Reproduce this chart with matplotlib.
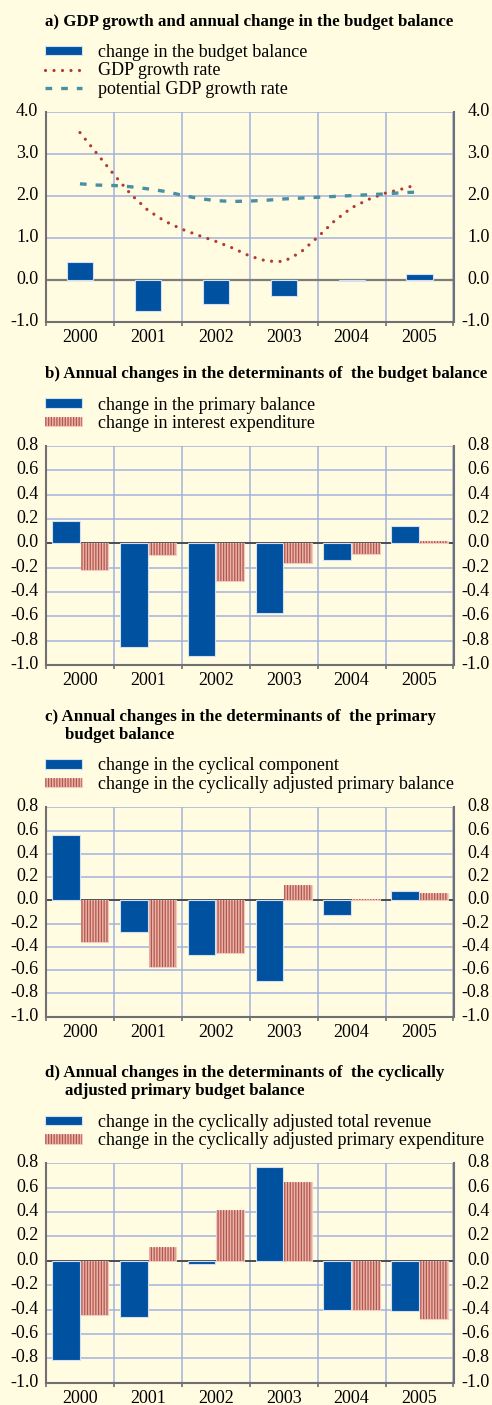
import numpy as np
import matplotlib.pyplot as plt
import matplotlib.transforms as mtransforms
from matplotlib.patches import Patch
from matplotlib.lines import Line2D

plt.rcParams['font.family'] = ['Liberation Serif', 'DejaVu Serif']
plt.rcParams['axes.unicode_minus'] = False
plt.rcParams['hatch.linewidth'] = 0.9

# colours
BG = '#FFFCE1'
BLUE = '#0052A0'
BLUE_EDGE = '#D4E0F2'
PINK = '#E8B4AA'
PINK_EDGE = '#F2CCC4'
STRIPE = '#B5564C'
GRID = '#A4B2DE'
SPINE = '#707070'
ZERO = '#3A3A3A'
RED = '#B23A32'
TEAL = '#4A8FA3'

years = ['2000', '2001', '2002', '2003', '2004', '2005']

# a) GDP growth and change in the budget balance
budget_change = [0.42, -0.73, -0.57, -0.37, -0.03, 0.14]
growth_t = [0, 0.25, 0.5, 0.75, 1, 1.25, 1.5, 1.75, 2, 2.25, 2.5,
            2.75, 3, 3.25, 3.5, 3.75, 4, 4.25, 4.5, 4.75, 4.92]
gdp_growth = [3.51, 3.01, 2.51, 2.04, 1.66, 1.40, 1.21, 1.06, 0.92, 0.76, 0.57,
              0.45, 0.44, 0.66, 1.02, 1.41, 1.72, 1.92, 2.07, 2.17, 2.25]
potential_growth = [2.29, 2.26, 2.25, 2.22, 2.17, 2.11, 2.02, 1.94, 1.89, 1.87, 1.88,
                    1.90, 1.93, 1.95, 1.97, 1.99, 2.01, 2.03, 2.05, 2.08, 2.09]

# b) determinants of the budget balance
primary_change = [0.18, -0.855, -0.93, -0.57, -0.14, 0.14]
interest_change = [-0.22, -0.10, -0.31, -0.16, -0.085, 0.02]

# c) determinants of the primary balance
cyclical_change = [0.56, -0.27, -0.47, -0.69, -0.13, 0.077]
capb_change = [-0.36, -0.57, -0.45, 0.135, 0.01, 0.066]

# d) determinants of the cyclically adjusted primary balance
revenue_change = [-0.81, -0.465, -0.03, 0.77, -0.40, -0.41]
expenditure_change = [-0.445, 0.115, 0.42, 0.65, -0.40, -0.48]

ticks_a = [-1.0, 0.0, 1.0, 2.0, 3.0, 4.0]
ticks_b = [-1.0, -0.8, -0.6, -0.4, -0.2, 0.0, 0.2, 0.4, 0.6, 0.8]

W, H = 492, 1405
fig = plt.figure(figsize=(W / 100, H / 100), dpi=100, facecolor=BG)

DOTTED = (0, (0.01, 2.65))
DASHED = (0, (2.0, 2.7))
# y labels sit a little above their gridlines
LIFT = mtransforms.ScaledTranslation(0, 2.5 / 100, fig.dpi_scale_trans)


def rect(left, top, right, bottom):
    return [left / W, 1 - bottom / H, (right - left) / W, (bottom - top) / H]


def make_axes(top, bottom, yticks, zero_color=ZERO, zero_lw=1.2):
    ax = fig.add_axes(rect(46, top, 453.5, bottom))
    ax.set_facecolor('none')
    ax.set_xlim(-0.5, 5.5)
    ax.set_ylim(yticks[0], yticks[-1])
    ax.set_xticks(range(6), years)
    ax.set_xticks(np.arange(-0.5, 6), minor=True)
    ax.set_yticks(yticks, [f'{v:.1f}' for v in yticks])
    ax.tick_params(axis='x', which='major', length=0, pad=5, labelsize=13)
    ax.tick_params(axis='x', which='minor', length=3, width=1.2, color=SPINE)
    ax.tick_params(axis='y', length=0, pad=5.5, labelsize=13)
    ax.grid(axis='x', which='minor', color=GRID, lw=1.1)
    ax.grid(axis='y', which='major', color=GRID, lw=1.1)
    ax.set_axisbelow(True)
    ax.spines['top'].set_visible(False)
    for side in ('left', 'right', 'bottom'):
        ax.spines[side].set_color(SPINE)
        ax.spines[side].set_linewidth(1.5)
    ax.axhline(0, color=zero_color, lw=zero_lw, zorder=0.9)
    for lab in ax.get_yticklabels():
        lab.set_transform(lab.get_transform() + LIFT)

    # right-hand labels, right aligned at the figure edge
    rax = ax.twinx()
    rax.set_ylim(ax.get_ylim())
    rax.set_yticks(yticks, [f'{v:.1f}' for v in yticks])
    rax.tick_params(axis='y', length=0, pad=26, labelsize=13)
    for lab in rax.get_yticklabels():
        lab.set_horizontalalignment('right')
        lab.set_transform(lab.get_transform() + LIFT)
    for s in rax.spines.values():
        s.set_visible(False)
    return ax


def title(y, text, x=45):
    fig.text(x / W, 1 - y / H, text, fontsize=12.15, fontweight='bold',
             ha='left', va='center')


def add_legend(ax, handles, labels, y_top):
    ax.legend(handles, labels, loc='upper left',
              bbox_to_anchor=(45 / W, 1 - y_top / H),
              bbox_transform=fig.transFigure, frameon=False, fontsize=13,
              borderpad=0, borderaxespad=0, handlelength=2.05, handleheight=0.4,
              handletextpad=0.88, labelspacing=0.08)


def hatched_pair(ax, first, second, labels, y_top):
    x = np.arange(6)
    ax.bar(x - 0.21, first, width=0.41, color=BLUE, edgecolor=BLUE_EDGE,
           lw=0.8, zorder=2)
    ax.bar(x + 0.215, second, width=0.41, color=PINK, edgecolor=PINK_EDGE,
           lw=0.8, zorder=2)
    ax.bar(x + 0.215, second, width=0.41, facecolor='none', edgecolor=STRIPE,
           hatch='||||||', lw=0, zorder=2.1)
    handles = [Patch(facecolor=BLUE, edgecolor=BLUE_EDGE, lw=0.8),
               (Patch(facecolor=PINK, edgecolor=PINK_EDGE, lw=0.8),
                Patch(facecolor='none', edgecolor=STRIPE, hatch='||||||', lw=0))]
    add_legend(ax, handles, labels, y_top)


# panel a
title(22, 'a) GDP growth and annual change in the budget balance')
ax_a = make_axes(112, 322, ticks_a, zero_color='#7C7C7C', zero_lw=1.6)
ax_a.bar(np.arange(6), budget_change, width=0.385, color=BLUE,
         edgecolor=BLUE_EDGE, lw=0.8, zorder=2)
ax_a.plot(growth_t, gdp_growth, color=RED, lw=2.3, linestyle=DOTTED,
          dash_capstyle='round', zorder=3)
ax_a.plot(growth_t, potential_growth, color=TEAL, lw=2.4,
          linestyle=DASHED, dash_capstyle='butt', zorder=3)
add_legend(ax_a,
           [Patch(facecolor=BLUE, edgecolor=BLUE_EDGE, lw=0.8),
            Line2D([], [], color=RED, lw=2.3, linestyle=DOTTED,
                   dash_capstyle='round'),
            Line2D([], [], color=TEAL, lw=2.4, linestyle=DASHED)],
           ['change in the budget balance', 'GDP growth rate',
            'potential GDP growth rate'], 44)

# panel b
title(374, 'b) Annual changes in the determinants of  the budget balance')
ax_b = make_axes(446, 665, ticks_b)
hatched_pair(ax_b, primary_change, interest_change,
             ['change in the primary balance', 'change in interest expenditure'], 396.5)

# panel c
title(717, 'c) Annual changes in the determinants of  the primary')
title(735, 'budget balance', x=65)
ax_c = make_axes(807.3, 1016.7, ticks_b)
hatched_pair(ax_c, cyclical_change, capb_change,
             ['change in the cyclical component',
              'change in the cyclically adjusted primary balance'], 757.5)

# panel d
title(1072.7, 'd) Annual changes in the determinants of  the cyclically')
title(1090.7, 'adjusted primary budget balance', x=65)
ax_d = make_axes(1163.3, 1382.7, ticks_b)
hatched_pair(ax_d, revenue_change, expenditure_change,
             ['change in the cyclically adjusted total revenue',
              'change in the cyclically adjusted primary expenditure'], 1114)

fig.savefig('out.png', dpi=100, facecolor=BG)
